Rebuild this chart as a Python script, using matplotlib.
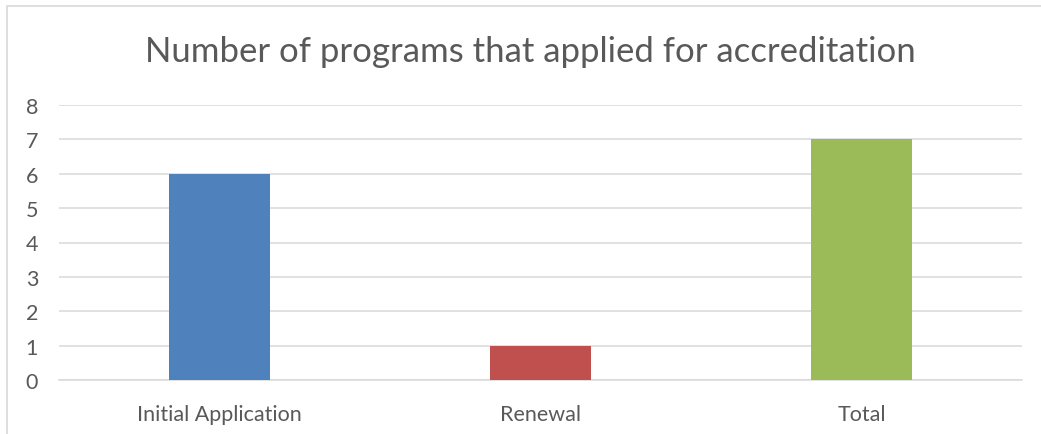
import matplotlib
matplotlib.use("Agg")
import matplotlib.pyplot as plt
from matplotlib.patches import Rectangle

categories = ["Initial Application", "Renewal", "Total"]
values = [6, 1, 7]
colors = ["#4F81BD", "#C0504D", "#9BBB59"]
yticks = [0, 1, 2, 3, 4, 5, 6, 7, 8]
title = "Number of programs that applied for accreditation"

plt.rcParams['font.family'] = ['Lato', 'DejaVu Sans']
W, H = 1041, 435
fig = plt.figure(figsize=(W / 100, H / 100), dpi=100)
fig.patch.set_facecolor("white")

# chart border (top/left visible)
fig.add_artist(Rectangle((7 / W, -0.1), 1.2, 1 - 7 / H + 0.1, transform=fig.transFigure,
                         fill=False, edgecolor="#D9D9D9", linewidth=1.2))

ax = fig.add_axes([59 / W, 1 - 381 / H, (1022 - 59) / W, (381 - 106) / H])
x = range(len(categories))
ax.bar(x, values, width=0.315, color=colors, zorder=3)
ax.set_xlim(-0.5, 2.5)
ax.set_ylim(0, 8)
ax.set_yticks(yticks)
ax.set_xticks(list(x))
ax.set_xticklabels(categories)
ax.yaxis.grid(True, color="#D9D9D9", linewidth=1.1, zorder=0)
ax.set_axisbelow(True)
for s in ["top", "right", "left"]:
    ax.spines[s].set_visible(False)
ax.spines["bottom"].set_color("#D9D9D9")
ax.spines["bottom"].set_linewidth(1.1)
ax.tick_params(axis="both", length=0, labelsize=15.5, labelcolor="#595959")
ax.tick_params(axis="y", pad=15)
ax.tick_params(axis="x", pad=17)

fig.text(530 / W, 1 - 52 / H, title, ha="center", va="center", fontsize=25, color="#595959")

fig.savefig("out.png", dpi=100, facecolor="white")
